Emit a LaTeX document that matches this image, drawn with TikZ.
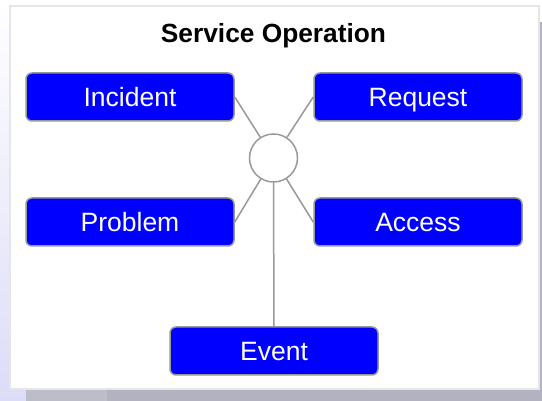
\documentclass[tikz,border=0pt]{standalone}
\usepackage{fontspec}
\setmainfont{Liberation Sans}
\begin{document}
\begin{tikzpicture}[x=1pt,y=-1pt,
  box/.style={draw=linegray,line width=1.5pt,fill=boxblue,rounded corners=6pt,
    minimum width=208pt,minimum height=48pt,inner sep=0pt,text=white,
    font=\fontsize{26.5}{30}\selectfont,text height=19pt,text depth=0pt},
  link/.style={draw=linegray,line width=1.5pt},
  hub/.style={circle,draw=linegray,line width=1.5pt,fill=white,minimum size=48pt,inner sep=0pt}]
\definecolor{linegray}{HTML}{999999}
\definecolor{boxblue}{HTML}{0000FF}
\definecolor{panelborder}{HTML}{E6E6E6}
\definecolor{shadowgray}{HTML}{B2B2C0}
\definecolor{lav}{HTML}{DCDCF8}
\useasboundingbox (0,0) rectangle (542,401);
% background
\shade[top color=white,bottom color=lav] (0,0) rectangle (542,401);
% shadow
\fill[shadowgray] (26,390) rectangle (542,401);
\fill[shadowgray] (539,22) rectangle (542,401);
\fill[shadowgray!85!white] (26,390) rectangle (107,401);
% panel
\draw[panelborder,line width=2pt,fill=white] (10,6) rectangle (538.5,389);
% title
\node[font=\bfseries\fontsize{26.3}{30}\selectfont,text height=18.8pt,text depth=0pt,inner sep=0pt] (title) at (273.5,33.5) {Service Operation};
% hub
\node[hub] (c) at (273.5,158) {};
% boxes
\node[box] (inc) at (130,97) {Incident};
\node[box] (req) at (418,97) {Request};
\node[box] (prob) at (130,222) {Problem};
\node[box] (acc) at (418,222) {Access};
\node[box] (ev) at (274,351) {Event};
% connectors
\draw[link] (inc.east) -- (c);
\draw[link] (req.west) -- (c);
\draw[link] (prob.east) -- (c);
\draw[link] (acc.west) -- (c);
\draw[link] (c.south) -- (ev.north);
\end{tikzpicture}
\end{document}
